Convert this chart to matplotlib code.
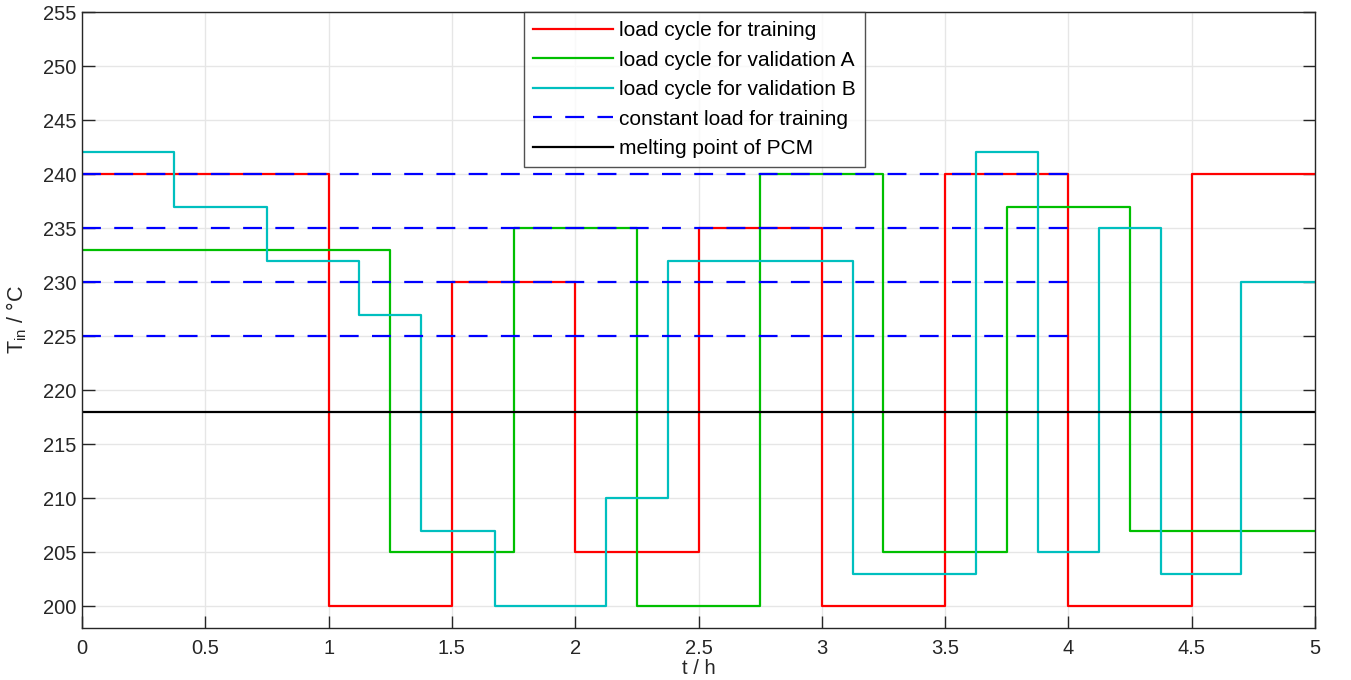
import numpy as np
import matplotlib
matplotlib.use('Agg')
import matplotlib.pyplot as plt

plt.rcParams['font.family'] = ['Liberation Sans', 'DejaVu Sans']

# load cycle for training (step edges in h, temperature in degC)
t_train = [0, 1, 1.5, 2, 2.5, 3, 3.5, 4, 4.5, 5]
T_train = [240, 200, 230, 205, 235, 200, 240, 200, 240]

# validation A
t_valA = [0, 1.25, 1.75, 2.25, 2.75, 3.25, 3.75, 4.25, 5]
T_valA = [233, 205, 235, 200, 240, 205, 237, 207]

# validation B
t_valB = [0, 0.375, 0.75, 1.125, 1.375, 1.675, 2.125, 2.375, 3.125,
          3.625, 3.875, 4.125, 4.375, 4.7, 5]
T_valB = [242, 237, 232, 227, 207, 200, 210, 232, 203, 242, 205, 235, 203, 230]

# constant loads and melting point
T_const = [240, 235, 230, 225]
t_const_end = 4
T_melt = 218

labels = ['load cycle for training', 'load cycle for validation A',
          'load cycle for validation B', 'constant load for training',
          'melting point of PCM']

fig = plt.figure(figsize=(13.51, 6.8), dpi=100)
ax = fig.add_axes([82/1351, 1-628/680, (1315-82)/1351, (628-12)/680])

def step(ax, t, T, **kw):
    return ax.plot(t, list(T) + [T[-1]], drawstyle='steps-post', **kw)

lw = 1.6
h1, = step(ax, t_train, T_train, color=(1, 0, 0), lw=lw)
h2, = step(ax, t_valA, T_valA, color=(0, 0.75, 0), lw=lw)
h3, = step(ax, t_valB, T_valB, color=(0, 0.75, 0.75), lw=lw)
h4 = None
for T in T_const:
    h4, = ax.plot([0, t_const_end], [T, T], color=(0, 0, 1), lw=lw,
                  dashes=(8.5, 6))
h5, = ax.plot([0, 5], [T_melt, T_melt], color='k', lw=lw)

ax.set_xlim(0, 5)
ax.set_ylim(198, 255)
ax.set_xticks(np.arange(0, 5.01, 0.5))
ax.set_xticklabels(['0', '0.5', '1', '1.5', '2', '2.5', '3', '3.5', '4', '4.5', '5'])
ax.set_yticks(np.arange(200, 256, 5))

ax.grid(True, color='#e6e6e6', lw=1.0)
ax.set_axisbelow(True)
for s in ax.spines.values():
    s.set_color('#262626')
    s.set_linewidth(1.0)
ax.tick_params(direction='in', length=9, width=1.0, colors='#262626',
               labelsize=14.5, top=False, right=True)
ax.tick_params(axis='x', pad=8)
ax.tick_params(axis='y', pad=4)

ax.set_xlabel('t / h', fontsize=14.5, color='#262626', labelpad=1)
ax.set_ylabel(r'T$_{\mathregular{in}}$ / °C', fontsize=15.5, color='#262626', labelpad=10)

leg = ax.legend([h1, h2, h3, h4, h5], labels, loc='upper center',
                bbox_to_anchor=(0.4968, 1.0), fontsize=15, frameon=True,
                fancybox=False, handlelength=3.8, labelspacing=0.5,
                borderpad=0.45, handletextpad=0.3, borderaxespad=0)
leg.get_frame().set_edgecolor('#262626')
leg.get_frame().set_linewidth(1.0)

fig.savefig('out.png', dpi=100)
